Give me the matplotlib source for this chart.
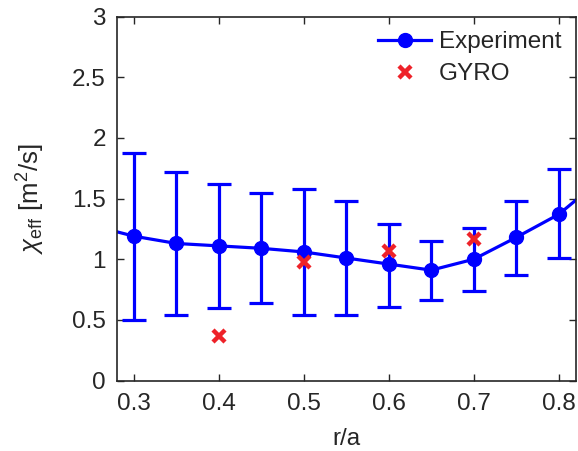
import matplotlib
matplotlib.use("Agg")
import matplotlib.pyplot as plt
from matplotlib.lines import Line2D

plt.rcParams['font.family'] = ['Liberation Sans', 'DejaVu Sans']
plt.rcParams['mathtext.fontset'] = 'custom'
plt.rcParams['mathtext.rm'] = 'Liberation Sans'
plt.rcParams['mathtext.it'] = 'Liberation Sans:italic'

r_exp = [0.25, 0.30, 0.35, 0.40, 0.45, 0.50, 0.55, 0.60, 0.65, 0.70, 0.75, 0.80, 0.85]
chi_exp = [1.28, 1.19, 1.13, 1.11, 1.09, 1.06, 1.01, 0.96, 0.91, 1.00, 1.18, 1.37, 1.66]
chi_hi = [1.95, 1.88, 1.72, 1.62, 1.55, 1.58, 1.48, 1.29, 1.15, 1.26, 1.48, 1.74, 2.0]
chi_lo = [0.60, 0.50, 0.54, 0.60, 0.64, 0.54, 0.54, 0.61, 0.66, 0.74, 0.87, 1.01, 1.3]

r_gyro = [0.4, 0.5, 0.6, 0.7]
chi_gyro = [0.37, 0.98, 1.07, 1.17]

yerr = [[c - l for c, l in zip(chi_exp, chi_lo)], [h - c for c, h in zip(chi_exp, chi_hi)]]

blue = '#0000ff'
red = '#ee2229'
fs = 17.5

fig = plt.figure(figsize=(5.78, 4.51), dpi=100)
ax = fig.add_axes([0.2024, 0.1563, 0.7936, 0.8067])

ax.errorbar(r_exp, chi_exp, yerr=yerr, color=blue, marker='o', markersize=10,
            lw=2.3, elinewidth=2.3, capsize=8.5, capthick=2.3, zorder=2)
ax.plot(r_gyro, chi_gyro, linestyle='none', marker='x', color=red, markersize=9,
        mew=3.2, zorder=3)

ax.set_xlim(0.28, 0.82)
ax.set_ylim(0, 3)
ax.set_xticks([0.3, 0.4, 0.5, 0.6, 0.7, 0.8])
ax.set_xticklabels(['0.3', '0.4', '0.5', '0.6', '0.7', '0.8'])
ax.set_yticks([0, 0.5, 1, 1.5, 2, 2.5, 3])
ax.set_yticklabels(['0', '0.5', '1', '1.5', '2', '2.5', '3'])
ax.tick_params(direction='in', top=True, right=True, labelsize=fs, length=5, width=1,
               colors='#262626')
ax.tick_params(axis='x', pad=9)
ax.tick_params(axis='y', pad=8)
for s in ax.spines.values():
    s.set_linewidth(1.2)
    s.set_color('#262626')

ax.set_xlabel('r/a', fontsize=fs, color='#262626', labelpad=9)
ax.set_ylabel(r'$\chi_{\rm eff}$ [m$^2$/s]', fontsize=fs + 1, color='#262626', labelpad=18)

handles = [Line2D([], [], color=blue, marker='o', markersize=10, lw=2.3),
           Line2D([], [], color=red, marker='x', markersize=9, mew=3.2, linestyle='none')]
leg = ax.legend(handles, ['Experiment', 'GYRO'], loc='upper right', frameon=False,
                fontsize=fs, handlelength=2.2, borderaxespad=0.4, handletextpad=0.3,
                labelspacing=0.4, borderpad=0.2)
for t in leg.get_texts():
    t.set_color('#262626')

fig.savefig('out.png', dpi=100)
